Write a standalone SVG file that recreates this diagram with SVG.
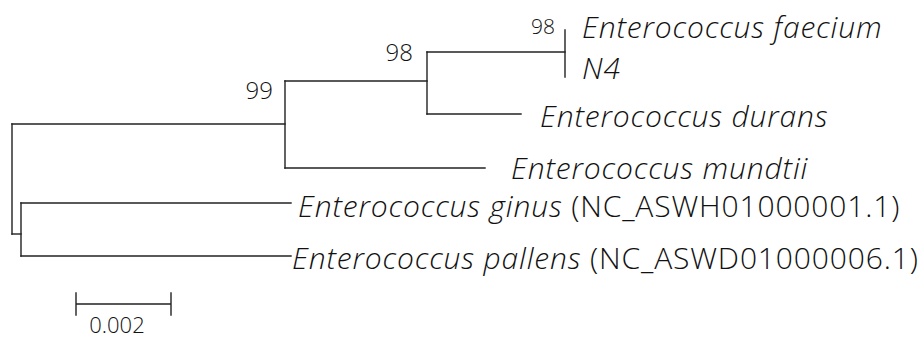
<svg xmlns="http://www.w3.org/2000/svg" width="921" height="339" viewBox="0 0 921 339">
  <style>
    .br { fill: none; stroke: #222; stroke-width: 1.4; stroke-linecap: square; }
    .tip { font-family: "Open Sans", "Noto Sans", "Liberation Sans", sans-serif; font-weight: 300; font-size: 30px; letter-spacing: 0.85px; fill: #111; }
    .sp { font-style: italic; }
    .bs { font-family: "Open Sans", "Noto Sans", "Liberation Sans", sans-serif; font-weight: 300; font-size: 24px; fill: #111; text-anchor: end; }
    .scl { font-family: "Open Sans", "Noto Sans", "Liberation Sans", sans-serif; font-weight: 300; font-size: 22px; fill: #111; text-anchor: middle; }
  </style>

  <!-- branches of the tree -->
  <g id="connectors">
    <path class="br" d="M12,124 V234"/>
    <path class="br" d="M12,124 H285"/>
    <path class="br" d="M12,234 H21"/>
    <path class="br" d="M285,81 V168"/>
    <path class="br" d="M285,81 H427"/>
    <path class="br" d="M285,168 H485"/>
    <path class="br" d="M427,52 V114"/>
    <path class="br" d="M427,52 H565"/>
    <path class="br" d="M427,114 H521"/>
    <path class="br" d="M565,30 V77"/>
    <path class="br" d="M21,203 V256"/>
    <path class="br" d="M21,203 H291"/>
    <path class="br" d="M21,256 H291"/>
  </g>

  <!-- bootstrap values -->
  <g id="node-99"><text class="bs" x="273" y="99">99</text></g>
  <g id="node-98a"><text class="bs" x="413" y="61">98</text></g>
  <g id="node-98b"><text class="bs" x="555" y="34" style="font-size:21px">98</text></g>

  <!-- taxa -->
  <g id="tip-faecium"><text class="tip sp" x="582" y="38">Enterococcus faecium</text></g>
  <g id="tip-n4"><text class="tip sp" x="582" y="79">N4</text></g>
  <g id="tip-durans"><text class="tip sp" x="540" y="127">Enterococcus durans</text></g>
  <g id="tip-mundtii"><text class="tip sp" x="511" y="179">Enterococcus mundtii</text></g>
  <g id="tip-ginus"><text class="tip" x="298" y="217"><tspan class="sp">Enterococcus ginus</tspan> (NC_ASWH01000001.1)</text></g>
  <g id="tip-pallens"><text class="tip" x="292" y="269"><tspan class="sp">Enterococcus pallens</tspan> (NC_ASWD01000006.1)</text></g>

  <!-- scale bar -->
  <g id="scale">
    <path class="br" d="M76,304 H171 M76,293 V315 M171,293 V315"/>
    <text class="scl" x="117" y="333">0.002</text>
  </g>
</svg>
